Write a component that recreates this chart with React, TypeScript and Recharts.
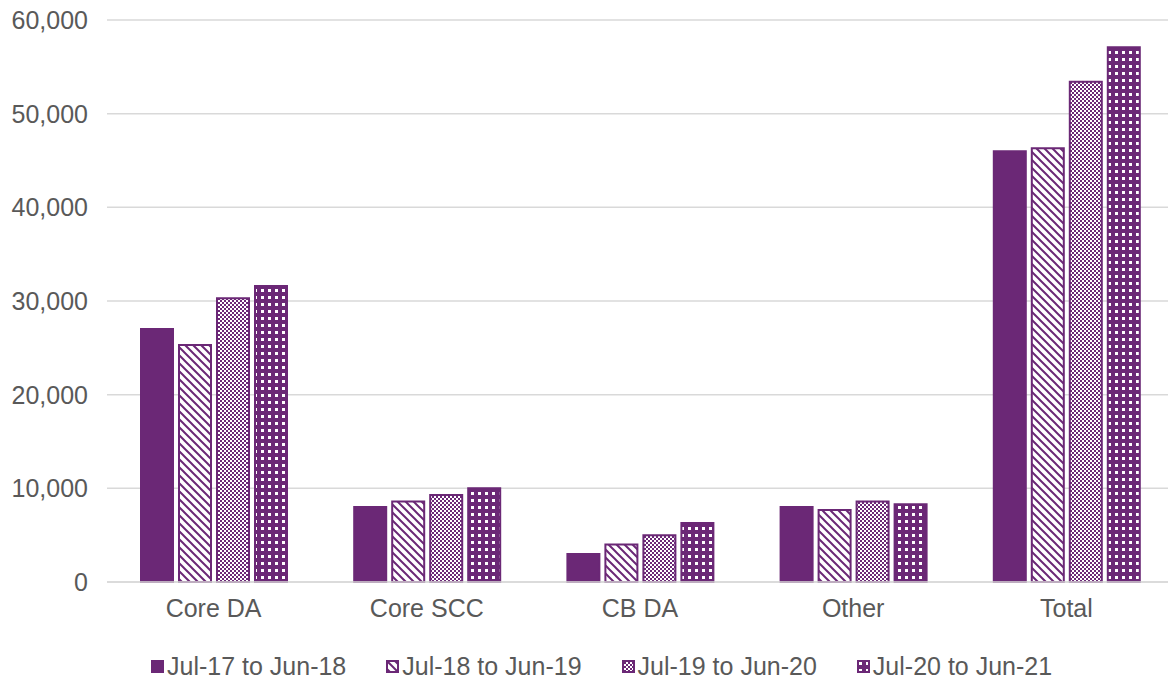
import { Bar, BarChart, CartesianGrid, Legend, XAxis, YAxis } from "recharts";

const PURPLE = "#6B2876";

const categories = ["Core DA", "Core SCC", "CB DA", "Other", "Total"];
const fy18 = [27000, 8000, 3000, 8000, 46000];
const fy19 = [25300, 8600, 4000, 7700, 46300];
const fy20 = [30300, 9300, 5000, 8600, 53400];
const fy21 = [31600, 10000, 6300, 8300, 57100];

const seriesNames = ["Jul-17 to Jun-18", "Jul-18 to Jun-19", "Jul-19 to Jun-20", "Jul-20 to Jun-21"];
const seriesKeys = ["fy18", "fy19", "fy20", "fy21"];
const seriesFills = [PURPLE, "url(#stripes)", "url(#checks)", "url(#dots)"];
const yTicks = [0, 10000, 20000, 30000, 40000, 50000, 60000];

const data = categories.map((name, i) => ({
  name,
  fy18: fy18[i],
  fy19: fy19[i],
  fy20: fy20[i],
  fy21: fy21[i],
}));

const font = "'Liberation Sans', Arial, sans-serif";

function Patterns() {
  return (
    <defs>
      <pattern id="stripes" patternUnits="userSpaceOnUse" width="8" height="8">
        <rect width="8" height="8" fill="#fff" />
        <path d="M-2,-2 L10,10 M-2,6 L2,10 M6,-2 L10,2" stroke={PURPLE} strokeWidth="2" />
      </pattern>
      <pattern id="checks" patternUnits="userSpaceOnUse" width="4" height="4">
        <rect width="4" height="4" fill="#fff" />
        <rect width="2" height="2" fill={PURPLE} />
        <rect x="2" y="2" width="2" height="2" fill={PURPLE} />
      </pattern>
      <pattern id="dots" patternUnits="userSpaceOnUse" width="7" height="7">
        <rect width="7" height="7" fill={PURPLE} />
        <rect x="2" y="2" width="3" height="3" fill="#fff" />
      </pattern>
    </defs>
  );
}

function LegendContent() {
  return (
    <div
      style={{
        display: "flex",
        gap: 40,
        fontFamily: font,
        fontSize: 25,
        lineHeight: "29px",
        color: "#595959",
        paddingLeft: 151,
        paddingTop: 16,
        boxSizing: "border-box",
        height: 43,
      }}
    >
      {seriesNames.map((n, i) => (
        <div key={n} style={{ display: "flex", alignItems: "center", gap: 3 }}>
          <svg width={13} height={13}>
            <rect x={1} y={1} width={11} height={11} fill={seriesFills[i]} stroke={PURPLE} strokeWidth={2} />
          </svg>
          <span>{n}</span>
        </div>
      ))}
    </div>
  );
}

export default function App() {
  return (
    <div style={{ position: "absolute", left: 0, top: 0, width: 1168, height: 680, overflow: "hidden", background: "#fff" }}>
      <BarChart
        width={1173}
        height={680}
        data={data}
        margin={{ top: 20, right: 0, left: 0, bottom: 0 }}
        barSize={32}
        barGap={6}
      >
        <Patterns />
        <CartesianGrid vertical={false} stroke="#d9d9d9" strokeWidth={1.5} />
        <XAxis
          dataKey="name"
          height={55}
          tick={{ fontSize: 25, fill: "#595959", fontFamily: font }}
          tickLine={false}
          axisLine={{ stroke: "#d9d9d9", strokeWidth: 1.5 }}
          tickMargin={11}
        />
        <YAxis
          width={107}
          domain={[0, 60000]}
          ticks={yTicks}
          tickFormatter={(v: number) => v.toLocaleString("en-US")}
          tick={{ fontSize: 25, fill: "#595959", fontFamily: font }}
          axisLine={false}
          tickLine={false}
          tickMargin={13}
        />
        <Legend verticalAlign="bottom" height={43} content={<LegendContent />} />
        {seriesKeys.map((k, i) => (
          <Bar
            key={k}
            dataKey={k}
            name={seriesNames[i]}
            fill={seriesFills[i]}
            stroke={PURPLE}
            strokeWidth={2}
            isAnimationActive={false}
          />
        ))}
      </BarChart>
    </div>
  );
}
